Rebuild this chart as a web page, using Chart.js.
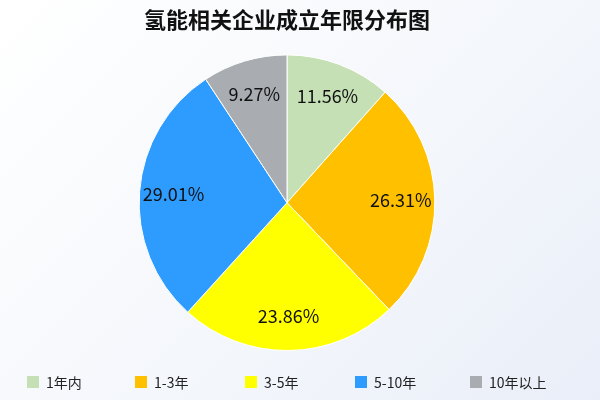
<!DOCTYPE html>
<html><head><meta charset="utf-8">
<script src="https://cdn.jsdelivr.net/npm/chart.js@4"></script>
<style>
html,body{margin:0;padding:0;}
body{width:600px;height:400px;background:linear-gradient(135deg,#ffffff 0%,#f3f6fb 60%,#e9eef8 100%);}
#w{width:600px;height:400px;position:relative;}
</style></head><body>
<div id="w"><canvas id="c"></canvas></div>
<script>
const categories = ["1年内","1-3年","3-5年","5-10年","10年以上"];
const values = [11.56, 26.31, 23.86, 29.01, 9.27];
const colors = ["#c5e0b4","#ffc000","#ffff00","#2e9bff","#a9adb2"];
const legendX = [27, 135, 245, 355, 470];
const fontFam = "'Noto Sans CJK SC','Noto Sans',sans-serif";
const labelPlugin = {
  id:'lbl',
  afterDatasetsDraw(chart){
    const ctx=chart.ctx; const meta=chart.getDatasetMeta(0);
    ctx.save(); ctx.fillStyle='#111'; ctx.font='18px '+fontFam;
    ctx.textAlign='center'; ctx.textBaseline='middle';
    meta.data.forEach((arc,i)=>{
      const a=(arc.startAngle+arc.endAngle)/2, r=arc.outerRadius*0.77;
      ctx.fillText(values[i].toFixed(2)+'%', arc.x+Math.cos(a)*r, arc.y+Math.sin(a)*r);
    });
    // legend
    ctx.font='14px '+fontFam; ctx.textAlign='left'; ctx.fillStyle='#222';
    categories.forEach((c,i)=>{
      ctx.fillStyle=colors[i]; ctx.fillRect(legendX[i],376,12,12);
      ctx.fillStyle='#222'; ctx.fillText(c, legendX[i]+19, 383);
    });
    ctx.restore();
  }
};
new Chart(document.getElementById('c'),{
  type:'pie',
  data:{labels:categories,datasets:[{data:values,backgroundColor:colors,borderColor:'#ffffff',borderWidth:1}]},
  options:{
    responsive:true,maintainAspectRatio:false,animation:false,
    layout:{padding:{top:0,bottom:49,right:26}},
    plugins:{
      title:{display:true,text:'氢能相关企业成立年限分布图',color:'#111',font:{family:fontFam,size:22,weight:'bold'},padding:{top:6,bottom:22}},
      legend:{display:false},
      tooltip:{enabled:false}
    }
  },
  plugins:[labelPlugin]
});
</script></body></html>
